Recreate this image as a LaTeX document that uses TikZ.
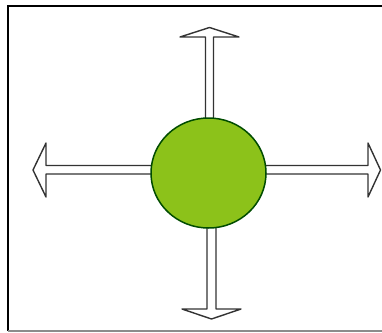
\documentclass[tikz,border=0pt]{standalone}
\usetikzlibrary{shapes.geometric}
\begin{document}
\begin{tikzpicture}[x=1pt,y=-1pt,
  hollowarrow/.style={draw=black!80, line width=1.4pt, fill=white, line join=round},
  ball/.style={ellipse, draw=green!30!black, line width=1.5pt, fill=ballgreen, minimum width=115pt, minimum height=110pt, inner sep=0pt}]
\definecolor{ballgreen}{HTML}{8CC21A}
\useasboundingbox (0,0) rectangle (382,332);
\fill[white] (0,0) rectangle (382,332);
\draw[black, line width=2pt] (7.5,331) -- (7.5,5.5) -- (382,5.5);
\draw[black!45, line width=1.5pt] (7.5,331) -- (382,331);
% up
\draw[hollowarrow] (205.5,125) -- (205.5,37) -- (180,37) -- (209.5,27.5) -- (239,37) -- (213.5,37) -- (213.5,125);
% down
\draw[hollowarrow] (207,222) -- (207,309) -- (182,309) -- (211.5,319) -- (241,309) -- (216,309) -- (216,222);
% left
\draw[hollowarrow] (160,165.5) -- (46,165.5) -- (46,143) -- (33,170) -- (46,197) -- (46,174) -- (160,174);
% right
\draw[hollowarrow] (258,165.5) -- (368,165.5) -- (368,143) -- (380.5,170) -- (368,197) -- (368,174) -- (258,174);
\node[ball] (c) at (208.5,173) {};
\end{tikzpicture}
\end{document}
